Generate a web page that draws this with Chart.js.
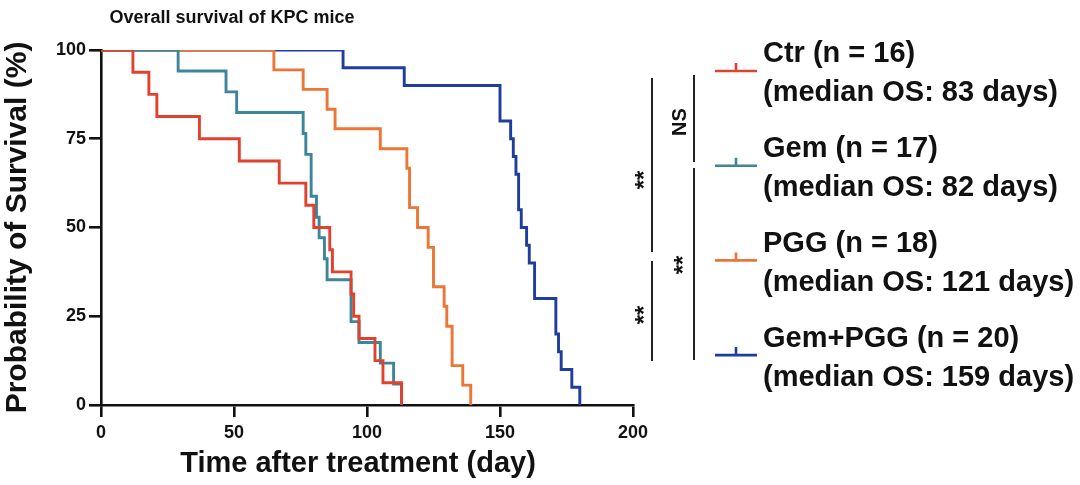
<!DOCTYPE html>
<html>
<head>
<meta charset="utf-8">
<script src="https://cdn.jsdelivr.net/npm/chart.js@4/dist/chart.umd.min.js"></script>
<style>
  html, body { margin: 0; padding: 0; background: #ffffff; }
  #wrap { width: 1080px; height: 485px; position: relative; }
</style>
</head>
<body>
<div id="wrap"><canvas id="c" width="1080" height="485"></canvas></div>
<script>
// ---- Data (Kaplan-Meier steps: day, survival %) ----
const ctrDays   = [0, 12, 18, 21, 37, 52, 67, 77, 80, 86, 87, 94, 95, 97, 103, 106, 113];
const ctrSurv   = [100, 93.75, 87.5, 81.25, 75, 68.75, 62.5, 56.25, 50, 43.75, 37.5, 31.25, 25, 18.75, 12.5, 6.25, 0];

const gemDays   = [0, 29, 47, 51, 76, 77, 79, 81, 82, 84, 85, 94, 97, 105, 110, 113];
const gemSurv   = [100, 94.1, 88.2, 82.4, 76.5, 70.6, 58.8, 52.9, 47.1, 41.2, 35.3, 23.5, 17.6, 11.8, 5.9, 0];

const pggDays   = [0, 65, 76, 85, 88, 105, 115, 116, 119, 123, 125, 129, 130, 132, 136, 139];
const pggSurv   = [100, 94.4, 88.9, 83.3, 77.8, 72.2, 66.7, 55.6, 50, 44.4, 33.3, 27.8, 22.2, 11.1, 5.6, 0];

const comboDays = [0, 91, 114, 150, 154, 155, 156, 157, 158, 160, 161, 163, 171, 172, 173, 177, 180];
const comboSurv = [100, 95, 90, 80, 75, 70, 65, 55, 50, 45, 40, 30, 20, 15, 10, 5, 0];

const seriesNames   = ['Ctr (n = 16)', 'Gem (n = 17)', 'PGG (n = 18)', 'Gem+PGG (n = 20)'];
const seriesMedians = ['(median OS: 83 days)', '(median OS: 82 days)', '(median OS: 121 days)', '(median OS: 159 days)'];
const seriesColors  = ['#e2412d', '#3d8598', '#ec7636', '#1f3d9e'];

const xTicks = [0, 50, 100, 150, 200];
const yTicks = [0, 25, 50, 75, 100];

const chartTitle = 'Overall survival of KPC mice';
const xTitle = 'Time after treatment (day)';
const yTitle = 'Probability of Survival (%)';

// significance annotations
const sigLabels = ['**', '**', 'NS', '**'];

// ---- Build chart ----
const FONT = '"Liberation Sans", Arial, Helvetica, sans-serif';
function pts(days, surv) { return days.map((d, i) => ({ x: d, y: surv[i] })); }
const allDays = [ctrDays, gemDays, pggDays, comboDays];
const allSurv = [ctrSurv, gemSurv, pggSurv, comboSurv];

const datasets = seriesNames.map((name, i) => ({
  label: name,
  data: pts(allDays[i], allSurv[i]),
  borderColor: seriesColors[i],
  backgroundColor: seriesColors[i],
  borderWidth: 2.9,
  pointRadius: 0,
  stepped: true,
  fill: false,
  borderCapStyle: 'butt',
  borderJoinStyle: 'miter'
}));

const overlay = {
  id: 'overlay',
  afterDraw(chart) {
    const ctx = chart.ctx;
    ctx.save();
    ctx.fillStyle = '#111';
    ctx.textAlign = 'center';
    ctx.textBaseline = 'middle';
    // Title
    ctx.font = 'bold 18px ' + FONT;
    ctx.fillText(chartTitle, 232, 18);
    // X axis title
    ctx.font = 'bold 29px ' + FONT;
    ctx.fillText(xTitle, 358, 464);

    // Legend
    ctx.textAlign = 'left';
    ctx.font = 'bold 29px ' + FONT;
    for (let i = 0; i < seriesNames.length; i++) {
      const y0 = 54 + i * 95;
      ctx.fillStyle = '#111';
      ctx.fillText(seriesNames[i], 763, y0);
      ctx.fillText(seriesMedians[i], 763, y0 + 39);
      const my = 71 + i * 94.7;
      ctx.strokeStyle = seriesColors[i];
      ctx.lineWidth = 2.6;
      ctx.beginPath();
      ctx.moveTo(715, my); ctx.lineTo(757, my);
      ctx.moveTo(736, my); ctx.lineTo(736, my - 8);
      ctx.stroke();
    }

    // Significance brackets
    ctx.strokeStyle = '#222';
    ctx.lineWidth = 2;
    const lines = [[652, 78, 252], [652, 261, 361], [694, 75, 162], [694, 168, 360]];
    const labs = [[640, 180], [640, 315], [680, 122], [679, 265]];
    lines.forEach(l => { ctx.beginPath(); ctx.moveTo(l[0], l[1]); ctx.lineTo(l[0], l[2]); ctx.stroke(); });
    ctx.fillStyle = '#111';
    ctx.textAlign = 'center';
    ctx.textBaseline = 'middle';
    sigLabels.forEach((t, i) => {
      ctx.save();
      ctx.translate(labs[i][0], labs[i][1]);
      ctx.rotate(-Math.PI / 2);
      ctx.font = (t === 'NS' ? 'bold 20px ' : 'bold 24px ') + FONT;
      ctx.fillText(t, 0, t === 'NS' ? 0 : 5);
      ctx.restore();
    });
    ctx.restore();
  }
};

new Chart(document.getElementById('c'), {
  type: 'line',
  data: { datasets },
  options: {
    responsive: false,
    animation: false,
    devicePixelRatio: 1,
    layout: { padding: { left: 0, top: 50, right: 447, bottom: 0 } },
    plugins: { legend: { display: false }, title: { display: false }, tooltip: { enabled: false } },
    scales: {
      x: {
        type: 'linear', min: 0, max: 200,
        afterBuildTicks: s => { s.ticks = xTicks.map(v => ({ value: v })); },
        afterFit: s => { s.height = 80; },
        border: { display: true, color: '#111', width: 2.6 },
        grid: { drawOnChartArea: false, drawTicks: true, tickLength: 12, color: '#111', lineWidth: 2.6 },
        ticks: { color: '#111', font: { family: FONT, size: 18, weight: 'bold' }, padding: 5, maxRotation: 0 },
        title: { display: false }
      },
      y: {
        type: 'linear', min: 0, max: 100,
        afterBuildTicks: s => { s.ticks = yTicks.map(v => ({ value: v })); },
        afterFit: s => { s.width = 101; },
        border: { display: true, color: '#111', width: 2.6 },
        grid: { drawOnChartArea: false, drawTicks: true, tickLength: 12, color: '#111', lineWidth: 2.6 },
        ticks: { color: '#111', font: { family: FONT, size: 18, weight: 'bold' }, padding: 3 },
        title: { display: true, text: yTitle, color: '#111', font: { family: FONT, size: 30, weight: 'bold', lineHeight: 1.2 }, padding: { top: 0, bottom: 0 } }
      }
    }
  },
  plugins: [overlay]
});
</script>
</body>
</html>
